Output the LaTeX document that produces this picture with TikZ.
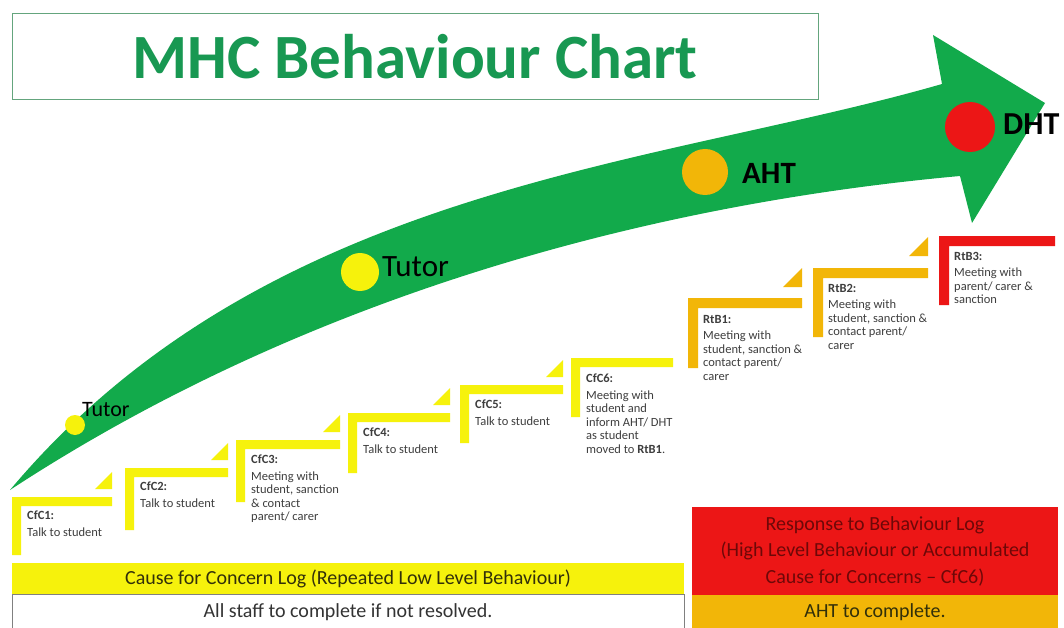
\documentclass[tikz,border=0pt]{standalone}
\usepackage{fontspec}
\setmainfont{Carlito}
\usepackage{tikz}
\definecolor{arrowgreen}{RGB}{18,170,75}
\definecolor{titlegreen}{RGB}{24,152,82}
\definecolor{framegreen}{RGB}{100,165,125}
\definecolor{cfcyellow}{RGB}{246,242,12}
\definecolor{rtbamber}{RGB}{242,182,8}
\definecolor{rtbred}{RGB}{236,22,22}
\definecolor{logred}{RGB}{110,8,8}
\definecolor{logdark}{RGB}{50,48,10}
\definecolor{stepgray}{RGB}{62,62,62}

\begin{document}
\begin{tikzpicture}[x=1pt,y=-1pt]
\tikzstyle{dot}=[circle,inner sep=0pt]
\tikzstyle{who}=[anchor=west,inner sep=0pt,text=black]
\tikzstyle{stepbox}=[anchor=north west,align=left,inner sep=0pt,text=stepgray,font=\fontsize{12.5}{13.5}\selectfont]
\tikzstyle{logbox}=[inner sep=0pt,align=center,font=\fontsize{20}{26.5}\selectfont]

\fill[white] (0,0) rectangle (1064,628);
\useasboundingbox (0,0) rectangle (1064,628);

% title
\node[draw=framegreen,line width=1pt,minimum width=806,minimum height=86,inner sep=0pt,
  text=titlegreen,font=\fontsize{63}{70}\selectfont\bfseries] (title) at (415,57) {MHC Behaviour Chart};

% the big arrow
\fill[arrowgreen] (10,490) .. controls (267,184) and (654,167) .. (942,84) -- (933,35)
  -- (1045,103) -- (972,223) -- (960,176) .. controls (640,205) and (300,300) .. (10,490) -- cycle;

\node[dot,fill=cfcyellow,minimum size=20] (tutorA) at (75,425) {};
\node[dot,fill=cfcyellow,minimum size=38] (tutorB) at (360,272) {};
\node[dot,fill=rtbamber,minimum size=46] (aht) at (705,172) {};
\node[dot,fill=rtbred,minimum size=50] (dht) at (970,127) {};
\node[who,font=\fontsize{22}{24}\selectfont] (tutorAtext) at (82,410) {Tutor};
\node[who,font=\fontsize{31}{34}\selectfont] (tutorBtext) at (382,267) {Tutor};
\node[who,font=\fontsize{31}{34}\selectfont\bfseries] (ahttext) at (742,173) {AHT};
\node[who,font=\fontsize{32}{34}\selectfont\bfseries] (dhttext) at (1003,124) {DHT};

% steps
\fill[cfcyellow] (12,497) -- ++(100,0) -- ++(0,9) -- ++(-91,0) -- ++(0,49) -- ++(-9,0) -- cycle;
\fill[cfcyellow] (95,489) -- ++(17,0) -- ++(0,-17) -- cycle;
\fill[cfcyellow] (125,468) -- ++(103,0) -- ++(0,9) -- ++(-94,0) -- ++(0,53) -- ++(-9,0) -- cycle;
\fill[cfcyellow] (211,460) -- ++(17,0) -- ++(0,-17) -- cycle;
\fill[cfcyellow] (236,440) -- ++(104,0) -- ++(0,9) -- ++(-95,0) -- ++(0,53) -- ++(-9,0) -- cycle;
\fill[cfcyellow] (323,432) -- ++(17,0) -- ++(0,-17) -- cycle;
\fill[cfcyellow] (348,413) -- ++(102,0) -- ++(0,9) -- ++(-93,0) -- ++(0,51) -- ++(-9,0) -- cycle;
\fill[cfcyellow] (433,405) -- ++(17,0) -- ++(0,-17) -- cycle;
\fill[cfcyellow] (460,385) -- ++(103,0) -- ++(0,9) -- ++(-94,0) -- ++(0,49) -- ++(-9,0) -- cycle;
\fill[cfcyellow] (546,377) -- ++(17,0) -- ++(0,-17) -- cycle;
\fill[cfcyellow] (571,358) -- ++(102,0) -- ++(0,9) -- ++(-93,0) -- ++(0,50) -- ++(-9,0) -- cycle;
\fill[rtbamber] (688,298) -- ++(114,0) -- ++(0,10) -- ++(-104,0) -- ++(0,60) -- ++(-10,0) -- cycle;
\fill[rtbamber] (783,287) -- ++(19,0) -- ++(0,-19) -- cycle;
\fill[rtbamber] (813,268) -- ++(115,0) -- ++(0,10) -- ++(-105,0) -- ++(0,59) -- ++(-10,0) -- cycle;
\fill[rtbamber] (909,256) -- ++(19,0) -- ++(0,-19) -- cycle;
\fill[rtbred] (939,236) -- ++(116,0) -- ++(0,10) -- ++(-106,0) -- ++(0,59) -- ++(-10,0) -- cycle;

\node[stepbox] (cfc1) at (27,511) {\textbf{CfC1:}\\[3pt]Talk to student};
\node[stepbox] (cfc2) at (140,482) {\textbf{CfC2:}\\[3pt]Talk to student};
\node[stepbox] (cfc3) at (251,455) {\textbf{CfC3:}\\[3pt]Meeting with\\student, sanction\\\& contact\\parent/ carer};
\node[stepbox] (cfc4) at (363,428) {\textbf{CfC4:}\\[3pt]Talk to student};
\node[stepbox] (cfc5) at (475,400) {\textbf{CfC5:}\\[3pt]Talk to student};
\node[stepbox] (cfc6) at (586,374) {\textbf{CfC6:}\\[3pt]Meeting with\\student and\\inform AHT/ DHT\\as student\\moved to \textbf{RtB1}.};
\node[stepbox] (rtb1) at (703,315) {\textbf{RtB1:}\\[3pt]Meeting with\\student, sanction \&\\contact parent/\\carer};
\node[stepbox] (rtb2) at (828,284) {\textbf{RtB2:}\\[3pt]Meeting with\\student, sanction \&\\contact parent/\\carer};
\node[stepbox] (rtb3) at (954,252) {\textbf{RtB3:}\\[3pt]Meeting with\\parent/ carer \&\\sanction};

% logs
\node[logbox,fill=cfcyellow,text=logdark,minimum width=672,minimum height=31] (cfclog) at (348,578.5)
  {Cause for Concern Log (Repeated Low Level Behaviour)};
\node[logbox,draw=gray,fill=white,text=black!80,minimum width=672,minimum height=36] (cfcwho) at (348,612)
  {All staff to complete if not resolved.};
\node[logbox,fill=rtbred,text=logred,minimum width=366,minimum height=88] (rtblog) at (875,551)
  {Response to Behaviour Log\\(High Level Behaviour or Accumulated\\Cause for Concerns -- CfC6)};
\node[logbox,fill=rtbamber,text=logdark,minimum width=366,minimum height=35] (rtbwho) at (875,612.5)
  {AHT to complete.};
\end{tikzpicture}
\end{document}
